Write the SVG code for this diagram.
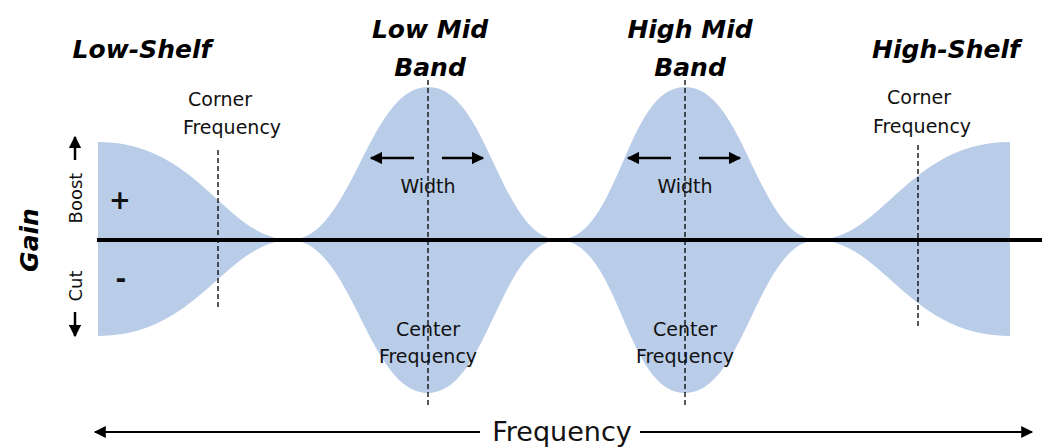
<svg xmlns="http://www.w3.org/2000/svg" width="1051" height="448" viewBox="0 0 1051 448">
<style>
.f{fill:#b9cde9}
.d{stroke:#000;stroke-width:1.3;stroke-dasharray:5,3;fill:none}
.t{font-family:"DejaVu Sans",sans-serif;font-size:19px;fill:#111;text-anchor:middle}
.h{font-family:"DejaVu Sans",sans-serif;font-size:25px;font-weight:bold;font-style:italic;fill:#000;text-anchor:middle}
.a{stroke:#000;stroke-width:2.5;fill:none;marker-end:url(#ah)}
</style>
<defs><marker id="ah" viewBox="0 0 10 10" refX="9" refY="5" markerWidth="5" markerHeight="5" orient="auto"><path d="M0,0L10,5L0,10z" fill="#000"/></marker>
<marker id="ah2" viewBox="0 0 10 10" refX="9" refY="5" markerWidth="12" markerHeight="6" orient="auto"><path d="M0,0L10,5L0,10z" fill="#000"/></marker></defs>
<g id="shapes">
<path class="f" d="M98,142 C200,142 225,240 292,240 C225,240 200,336 98,336Z"/>
<path class="f" d="M290,240 C352,240 368,87 428,87 C488,87 500,240 560,240 C500,240 488,393 428,393 C368,393 352,240 290,240Z"/>
<path class="f" d="M558,240 C620,240 625,87 685,87 C745,87 758,240 818,240 C758,240 745,393 685,393 C625,393 620,240 558,240Z"/>
<path class="f" d="M1010,142 C908,142 883,240 816,240 C883,240 908,336 1010,336Z"/>
</g>
<g id="connectors">
<line x1="97" y1="240" x2="1042" y2="240" stroke="#000" stroke-width="4"/>
<line class="d" x1="218" y1="150" x2="218" y2="308"/>
<line class="d" x1="428" y1="80" x2="428" y2="405"/>
<line class="d" x1="685" y1="80" x2="685" y2="405"/>
<line class="d" x1="918" y1="145" x2="918" y2="326"/>
<line class="a" x1="414" y1="158" x2="371" y2="158"/>
<line class="a" x1="442" y1="158" x2="483" y2="158"/>
<line class="a" x1="671" y1="158" x2="628" y2="158"/>
<line class="a" x1="699" y1="158" x2="740" y2="158"/>
<line x1="480" y1="432" x2="95" y2="432" stroke="#000" stroke-width="2" marker-end="url(#ah2)"/>
<line x1="640" y1="432" x2="1032" y2="432" stroke="#000" stroke-width="2" marker-end="url(#ah2)"/>
<line class="a" x1="75" y1="160" x2="75" y2="137"/>
<line class="a" x1="75" y1="312" x2="75" y2="336"/>
</g>
<g id="labels">
<text class="h" x="142" y="58">Low-Shelf</text>
<text class="h" x="430" y="38">Low Mid</text>
<text class="h" x="430" y="76">Band</text>
<text class="h" x="690" y="38">High Mid</text>
<text class="h" x="690" y="76">Band</text>
<text class="h" x="946" y="58">High-Shelf</text>
<text class="t" x="220" y="106">Corner</text>
<text class="t" x="232" y="134">Frequency</text>
<text class="t" x="919" y="104">Corner</text>
<text class="t" x="922" y="133">Frequency</text>
<text class="t" x="428" y="193">Width</text>
<text class="t" x="685" y="193">Width</text>
<text class="t" x="428" y="336">Center</text>
<text class="t" x="428" y="363">Frequency</text>
<text class="t" x="685" y="336">Center</text>
<text class="t" x="685" y="363">Frequency</text>
<text class="t" x="562" y="441" style="font-size:27px">Frequency</text>
<text class="t" x="120" y="209" style="font-size:26px;font-weight:bold">+</text>
<text class="t" x="121" y="288" style="font-size:26px;font-weight:bold">-</text>
<text class="h" transform="translate(38,240) rotate(-90)">Gain</text>
<text class="t" transform="translate(82,198) rotate(-90)" style="font-size:18px">Boost</text>
<text class="t" transform="translate(82,286) rotate(-90)" style="font-size:18px">Cut</text>
</g>
</svg>
